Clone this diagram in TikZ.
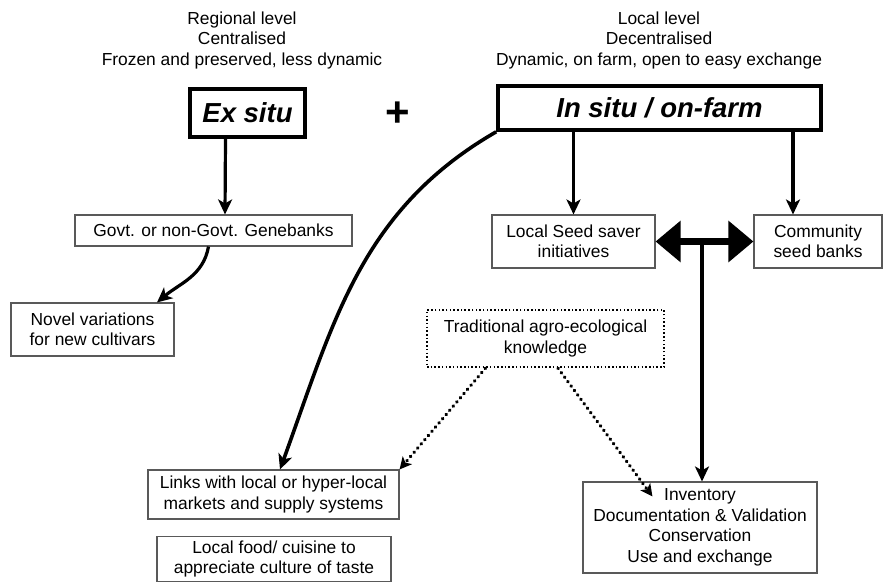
\documentclass[tikz,border=0pt]{standalone}
\usepackage{fontspec}
\setmainfont{Liberation Sans}
\usetikzlibrary{arrows.meta}

\begin{document}
\begin{tikzpicture}[->,>={Stealth[length=15pt,width=14pt,inset=4pt]},x=1pt,y=1pt,
                    line width=3.2pt]
  \tikzstyle{every node}=[font=\fontsize{17.4}{20.5}\selectfont,align=center]
  \tikzstyle{box}=[rectangle,draw=black!65,line width=1.1pt,inner sep=0pt]
  \tikzstyle{head}=[rectangle,draw=black,line width=3.2pt,inner sep=0pt,
                    font=\fontsize{27.5}{30}\selectfont\bfseries\itshape]
  \tikzstyle{dotbox}=[box,draw=black,line width=2.3pt,dash pattern=on 1.5pt off 2.2pt]
  \tikzstyle{dots}=[line width=3.4pt,dash pattern=on 0.5pt off 5pt,line cap=round,
                    -{Stealth[length=12pt,width=12pt,inset=3pt]}]
  \tikzstyle{both}=[line width=7pt,{Triangle[length=25pt,width=40pt]}-{Triangle[length=25pt,width=40pt]}]

  \useasboundingbox (0,0) rectangle (885,-582);

  \node (RL) at (242,-40)  {Regional level\\Centralised\\Frozen and preserved, less dynamic};
  \node (LL) at (659,-40)  {Local level\\Decentralised\\Dynamic, on farm, open to easy exchange};
  \node[head,minimum width=115pt,minimum height=48pt] (E) at (247.5,-113) {Ex situ};
  \node[font=\fontsize{42}{42}\selectfont\bfseries] (P) at (398,-114) {+};
  \node[head,line width=3.6pt,minimum width=323pt,minimum height=44pt] (I) at (659.5,-108) {In situ / on-farm};

  \node[box,minimum width=277pt,minimum height=31pt] (G) at (213.5,-230.5) {Govt. or non-Govt. Genebanks};
  \node[box,minimum width=163pt,minimum height=53pt] (N) at (92.5,-329.5)  {Novel variations\\for new cultivars};
  \node[box,minimum width=163pt,minimum height=53pt] (L) at (573.5,-241.5) {Local Seed saver\\initiatives};
  \node[box,minimum width=128pt,minimum height=53pt] (C) at (818,-241.5)   {Community\\seed banks};
  \node[dotbox,minimum width=237pt,minimum height=57pt] (T) at (545.5,-338.5) {Traditional agro-ecological\\knowledge};
  \node[box,minimum width=251pt,minimum height=49pt] (K) at (273.5,-494.5) {Links with local or hyper-local\\markets and supply systems};
  \node[box,minimum width=234pt,minimum height=45pt] (F) at (274,-559)     {Local food/ cuisine to\\appreciate culture of taste};
  \node[box,minimum width=234pt,minimum height=91pt] (V) at (700,-527.5)   {Inventory\\Documentation \& Validation\\Conservation\\Use and exchange};

  \coordinate (J) at ([xshift=2pt]V.north |- L.east);

  \path ([xshift=-22pt]E.south) edge ([xshift=11.5pt]G.north)
        ([xshift=-5pt]G.south) edge [out=-100,in=40] ([xshift=64.5pt]N.north)
        (L.north |- I.south) edge (L.north)
        ([xshift=-25pt]C.north |- I.south) edge ([xshift=-25pt]C.north)
        (I.south west) edge [line width=3.6pt,out=210,in=70] ([xshift=6.5pt]K.north)
        (L.east) edge [both] (C.west)
        (J) edge [line width=4pt] ([xshift=2pt]V.north)
        ([xshift=-60pt]T.south) edge [dots] (K.north east)
        ([xshift=12.5pt]T.south) edge [dots] ([xshift=70pt,yshift=-15pt]V.north west);
\end{tikzpicture}
\end{document}
